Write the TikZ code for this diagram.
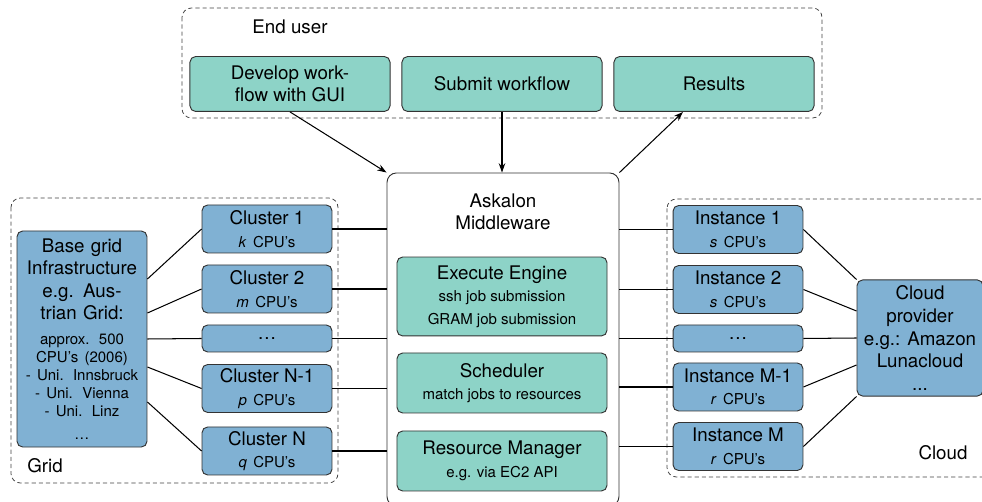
\documentclass[tikz,border=0pt]{standalone}
\usepackage{fontspec}
\setmainfont{TeX Gyre Heros}
\usetikzlibrary{calc, arrows.meta}
\definecolor{boxGreen}{HTML}{8DD3C7}
\definecolor{boxBlue}{HTML}{80B1D3}
\definecolor{edgeGray}{gray}{0.2}

\begin{document}
\begin{tikzpicture}[x=0.5333pt, y=-0.5333pt, >={Stealth[length=5pt, width=3.5pt]},
    greenbox/.style={draw=edgeGray, line width=0.5pt, fill=boxGreen, rounded corners=3pt, align=center, inner sep=1pt},
    bluebox/.style={draw=edgeGray, line width=0.5pt, fill=boxBlue, rounded corners=3pt, align=center, inner sep=1pt},
    groupbox/.style={draw=black!75, line width=0.4pt, dash pattern=on 2.2pt off 1.6pt, rounded corners=5pt},
    link/.style={line width=0.55pt}]
    \useasboundingbox (0,0) rectangle (982,502);

    % dashed groups
    \draw[groupbox] (182,8) rectangle (822,118);
    \draw[groupbox] (11,198) rectangle (338,483);
    \draw[groupbox] (667,199) rectangle (995,477);

    % End user
    \node (eu) at (290,27) {End user};
    \node[greenbox, minimum width=106.7pt, minimum height=29.3pt] (dev) at (290,84) {Develop work-\\flow with GUI};
    \node[greenbox, minimum width=106.7pt, minimum height=29.3pt] (sub) at (502,84) {Submit workflow};
    \node[greenbox, minimum width=106.7pt, minimum height=29.3pt] (res) at (714,84) {Results};

    % Middleware
    \node[draw=edgeGray, line width=0.5pt, fill=white, rounded corners=5pt, minimum width=123.7pt, minimum height=177.6pt] (mw) at (503,339.5) {};
    \node[align=center] (mwlabel) at (503,212) {Askalon\\Middleware};
    \node[greenbox, minimum width=112pt, minimum height=42.1pt] (exe) at (502,296.5) {Execute Engine\\{\footnotesize ssh job submission}\\{\footnotesize GRAM job submission}};
    \node[greenbox, minimum width=112pt, minimum height=32pt] (sch) at (502,383) {Scheduler\\{\footnotesize match jobs to resources}};
    \node[greenbox, minimum width=112pt, minimum height=32pt] (rm) at (502,461) {Resource Manager\\{\footnotesize e.g. via EC2 API}};

    % Grid
    \node (gridlabel) at (45,466) {Grid};
    \node[bluebox, minimum width=69.3pt, minimum height=115.2pt, text width=66pt] (base) at (82,339)
        {Base grid\\Infrastructure\\e.g. Aus-\\trian Grid:\par\vspace{4pt}{\footnotesize approx. 500\\CPU's (2006)\\- Uni. Innsbruck\\- Uni. Vienna\\- Uni. Linz\\[3pt]\dots\par}};
    \node[bluebox, minimum width=69.3pt, minimum height=25.6pt] (c1) at (267,229) {Cluster 1\\{\footnotesize\textit{k}\hspace{1.2pt} CPU's}};
    \node[bluebox, minimum width=69.3pt, minimum height=25.6pt] (c2) at (267,289) {Cluster 2\\{\footnotesize\textit{m}\hspace{1.2pt} CPU's}};
    \node[bluebox, minimum width=69.3pt, minimum height=14.4pt] (cd) at (267,338.5) {\dots};
    \node[bluebox, minimum width=69.3pt, minimum height=25.6pt] (c3) at (267,388.5) {Cluster N-1\\{\footnotesize\textit{p}\hspace{1.2pt} CPU's}};
    \node[bluebox, minimum width=69.3pt, minimum height=25.6pt] (c4) at (267,451) {Cluster N\\{\footnotesize\textit{q}\hspace{1.2pt} CPU's}};

    % Cloud
    \node (cloudlabel) at (943,453) {Cloud};
    \node[bluebox, minimum width=69.3pt, minimum height=25.6pt] (i1) at (738,229.5) {Instance 1\\{\footnotesize\textit{s}\hspace{1.2pt} CPU's}};
    \node[bluebox, minimum width=69.3pt, minimum height=25.6pt] (i2) at (738,289.5) {Instance 2\\{\footnotesize\textit{s}\hspace{1.2pt} CPU's}};
    \node[bluebox, minimum width=69.3pt, minimum height=14.4pt] (id) at (738,338.5) {\dots};
    \node[bluebox, minimum width=69.3pt, minimum height=25.6pt] (i3) at (738,387) {Instance M-1\\{\footnotesize\textit{r}\hspace{1.2pt} CPU's}};
    \node[bluebox, minimum width=69.3pt, minimum height=25.6pt] (i4) at (738,446.5) {Instance M\\{\footnotesize\textit{r}\hspace{1.2pt} CPU's}};
    \node[bluebox, minimum width=67.2pt, minimum height=61.9pt] (prov) at (920,338) {Cloud\\provider\\e.g.: Amazon\\Lunacloud\\...};

    % end user <-> middleware
    \coordinate (resin) at ($(res.south)+(-31,0)$);
    \draw[link, ->] (dev.south) -- (mw.north west);
    \draw[link, ->] (sub.south) -- (sub.south |- mw.north);
    \draw[link, ->] (mw.north east) -- (resin);

    % base grid -> clusters
    \coordinate (b1) at ($(base.east)+(0,-60)$);
    \coordinate (b2) at ($(base.east)+(0,-26)$);
    \coordinate (b4) at ($(base.east)+(0,28)$);
    \coordinate (b5) at ($(base.east)+(0,63)$);
    \draw[link] (b1) -- (c1.west);
    \draw[link] (b2) -- (c2.west);
    \draw[link] (base.east) -- (cd.west);
    \draw[link] (b4) -- (c3.west);
    \draw[link] (b5) -- (c4.west);

    % clusters -> middleware
    \draw[link] (c1.east) -- (c1.east -| mw.west);
    \draw[link] (c2.east) -- (c2.east -| mw.west);
    \draw[link] (cd.east) -- (cd.east -| mw.west);
    \draw[link] (c3.east) -- (c3.east -| mw.west);
    \draw[link] (c4.east) -- (c4.east -| mw.west);

    % middleware -> instances
    \draw[link] (i1.west -| mw.east) -- (i1.west);
    \draw[link] (i2.west -| mw.east) -- (i2.west);
    \draw[link] (id.west -| mw.east) -- (id.west);
    \draw[link] (i3.west -| mw.east) -- (i3.west);
    \draw[link] (i4.west -| mw.east) -- (i4.west);

    % instances -> provider
    \coordinate (p2) at ($(prov.west)+(0,-27)$);
    \coordinate (p4) at ($(prov.west)+(0,27)$);
    \draw[link] (i1.east) -- (prov.north west);
    \draw[link] (i2.east) -- (p2);
    \draw[link] (id.east) -- (prov.west);
    \draw[link] (i3.east) -- (p4);
    \draw[link] (i4.east) -- (prov.south west);
\end{tikzpicture}
\end{document}
